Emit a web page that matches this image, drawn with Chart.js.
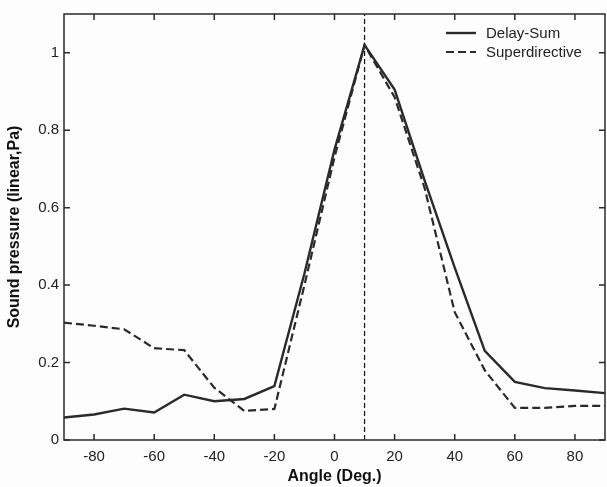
<!DOCTYPE html>
<html>
<head>
<meta charset="utf-8">
<script src="https://cdn.jsdelivr.net/npm/chart.js@4/dist/chart.umd.min.js"></script>
<style>
  html, body { margin: 0; padding: 0; background: #fdfdfd; }
  #wrap { width: 607px; height: 487px; }
</style>
</head>
<body>
<div id="wrap"><canvas id="c" width="607" height="487"></canvas></div>
<script>
// ---- data ----
const angles = [-90,-80,-70,-60,-50,-40,-30,-20,-10,0,10,20,30,40,50,60,70,80,90];
const delaySum = [0.058,0.066,0.081,0.071,0.117,0.100,0.106,0.139,0.43,0.75,1.02,0.905,0.67,0.445,0.23,0.15,0.134,0.128,0.121];
const superdirective = [0.303,0.295,0.286,0.237,0.232,0.135,0.075,0.080,0.40,0.73,1.02,0.885,0.65,0.33,0.18,0.083,0.083,0.088,0.088];
const seriesNames = ['Delay-Sum', 'Superdirective'];
const markerAngle = 10;
const xTicks = [-80,-60,-40,-20,0,20,40,60,80];
const yTicks = [0,0.2,0.4,0.6,0.8,1];
const xRange = [-90, 90];
const yRange = [0, 1.1];
const xTitle = 'Angle (Deg.)';
const yTitle = 'Sound pressure (linear,Pa)';

const ink = '#2a2a2a';
const textCol = '#222';

const toPts = (xs, ys) => xs.map((x, i) => ({x: x, y: ys[i]}));

const bgPlugin = {
  id: 'bg',
  beforeDraw(chart) {
    const ctx = chart.ctx;
    ctx.save();
    ctx.fillStyle = '#fdfdfd';
    ctx.fillRect(0, 0, chart.width, chart.height);
    ctx.restore();
  }
};

const framePlugin = {
  id: 'frame',
  afterDraw(chart) {
    const {ctx, chartArea: a, scales} = chart;
    ctx.save();
    ctx.strokeStyle = ink;
    ctx.lineWidth = 1.5;
    ctx.setLineDash([]);
    ctx.strokeRect(a.left, a.top, a.right - a.left, a.bottom - a.top);
    const L = 6;
    ctx.beginPath();
    scales.x.ticks.forEach(t => {
      const px = scales.x.getPixelForValue(t.value);
      ctx.moveTo(px, a.bottom); ctx.lineTo(px, a.bottom - L);
      ctx.moveTo(px, a.top); ctx.lineTo(px, a.top + L);
    });
    scales.y.ticks.forEach(t => {
      const py = scales.y.getPixelForValue(t.value);
      ctx.moveTo(a.left, py); ctx.lineTo(a.left + L, py);
      ctx.moveTo(a.right, py); ctx.lineTo(a.right - L, py);
    });
    ctx.stroke();

    // legend (top-right, inside plot)
    const ds = chart.data.datasets;
    const x0 = 446, x1 = 476, tx = 486;
    const ys = [33, 52];
    ctx.font = '15px "Liberation Sans", Arial, sans-serif';
    ctx.textBaseline = 'middle';
    ctx.textAlign = 'left';
    seriesNames.forEach((name, i) => {
      const d = ds[i];
      ctx.strokeStyle = d.borderColor;
      ctx.lineWidth = d.borderWidth;
      ctx.setLineDash(d.borderDash || []);
      ctx.beginPath();
      ctx.moveTo(x0, ys[i]); ctx.lineTo(x1, ys[i]);
      ctx.stroke();
      ctx.fillStyle = textCol;
      ctx.fillText(name, tx, ys[i] + 1);
    });
    ctx.restore();
  }
};

new Chart(document.getElementById('c'), {
  type: 'line',
  data: {
    datasets: [
      {
        label: seriesNames[0],
        data: toPts(angles, delaySum),
        borderColor: ink, borderWidth: 2.4, pointRadius: 0, tension: 0, fill: false
      },
      {
        label: seriesNames[1],
        data: toPts(angles, superdirective),
        borderColor: ink, borderWidth: 2.2, borderDash: [8, 4], pointRadius: 0, tension: 0, fill: false
      },
      {
        label: 'marker',
        data: [{x: markerAngle, y: yRange[0]}, {x: markerAngle, y: yRange[1]}],
        borderColor: '#111', borderWidth: 1.2, borderDash: [5, 3], pointRadius: 0, fill: false
      }
    ]
  },
  options: {
    responsive: false,
    animation: false,
    devicePixelRatio: 1,
    layout: { padding: { top: 12, right: 2, left: 0, bottom: 0 } },
    plugins: { legend: { display: false }, tooltip: { enabled: false } },
    scales: {
      x: {
        type: 'linear',
        min: xRange[0], max: xRange[1],
        grid: { display: false, drawTicks: false, tickLength: 0 },
        border: { display: false },
        afterBuildTicks: s => { s.ticks = xTicks.map(v => ({value: v})); },
        afterFit: s => { s.height = 47; },
        ticks: {
          color: textCol, padding: 8, maxRotation: 0, autoSkip: false,
          font: { family: '"Liberation Sans", Arial, sans-serif', size: 15 },
          callback: v => String(v)
        },
        title: {
          display: true, text: xTitle, color: '#111',
          font: { family: '"Liberation Sans", Arial, sans-serif', size: 16, weight: 'bold' },
          padding: { top: 0, bottom: 1 }
        }
      },
      y: {
        type: 'linear',
        min: yRange[0], max: yRange[1],
        grid: { display: false, drawTicks: false, tickLength: 0 },
        border: { display: false },
        afterBuildTicks: s => { s.ticks = yTicks.map(v => ({value: v})); },
        afterFit: s => { s.width = 64; },
        ticks: {
          color: textCol, padding: 5, autoSkip: false,
          font: { family: '"Liberation Sans", Arial, sans-serif', size: 15 },
          callback: v => String(+(+v).toFixed(1))
        },
        title: {
          display: true, text: yTitle, color: '#111',
          font: { family: '"Liberation Sans", Arial, sans-serif', size: 16, weight: 'bold' },
          padding: { top: 5, bottom: 0 }
        }
      }
    }
  },
  plugins: [bgPlugin, framePlugin]
});
</script>
</body>
</html>
